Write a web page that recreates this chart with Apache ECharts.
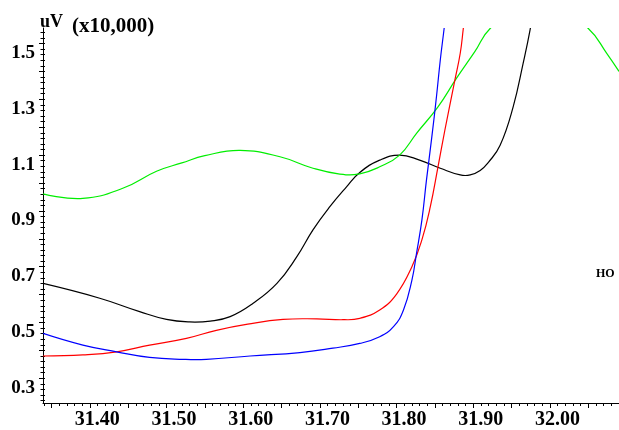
<!DOCTYPE html>
<html>
<head>
<meta charset="utf-8">
<script src="https://cdn.jsdelivr.net/npm/echarts@6/dist/echarts.min.js"></script>
<style>
  html, body { margin: 0; padding: 0; background: #fff; }
  #chart { width: 619px; height: 430px; }
</style>
</head>
<body>
<div id="chart"></div>
<script>
// Retention time (min) / signal (uV x10,000) pairs for each trace
const blueTrace = [
  [31.339, 0.461], [31.391, 0.419], [31.435, 0.395], [31.478, 0.375],
  [31.522, 0.368], [31.552, 0.368], [31.609, 0.380], [31.674, 0.392],
  [31.717, 0.408], [31.752, 0.425], [31.778, 0.449], [31.796, 0.485],
  [31.809, 0.545], [31.820, 0.652], [31.826, 0.748], [31.833, 0.867],
  [31.839, 1.011], [31.846, 1.166], [31.852, 1.309], [31.857, 1.441],
  [31.862, 1.554], [31.866, 1.650]
];
const redTrace = [
  [31.339, 0.380], [31.391, 0.384], [31.435, 0.395], [31.478, 0.419],
  [31.526, 0.443], [31.565, 0.472], [31.606, 0.494], [31.652, 0.511],
  [31.696, 0.513], [31.730, 0.510], [31.752, 0.515], [31.778, 0.545],
  [31.800, 0.602], [31.820, 0.700], [31.833, 0.796], [31.844, 0.915],
  [31.854, 1.058], [31.863, 1.190], [31.876, 1.369], [31.883, 1.465],
  [31.887, 1.554], [31.891, 1.650]
];
const greenTrace = [
  [31.339, 0.961], [31.391, 0.945], [31.443, 0.981], [31.487, 1.042],
  [31.520, 1.072], [31.550, 1.098], [31.596, 1.117], [31.648, 1.094],
  [31.691, 1.053], [31.726, 1.032], [31.752, 1.033], [31.778, 1.058],
  [31.804, 1.100], [31.826, 1.178], [31.854, 1.273], [31.878, 1.375],
  [31.902, 1.471], [31.922, 1.554], [31.984, 1.690], [32.050, 1.554],
  [32.074, 1.465], [32.090, 1.400]
];
const blackTrace = [
  [31.339, 0.640], [31.413, 0.587], [31.465, 0.539], [31.500, 0.511],
  [31.530, 0.502], [31.557, 0.505], [31.583, 0.521], [31.613, 0.569],
  [31.644, 0.640], [31.670, 0.736], [31.691, 0.832], [31.713, 0.915],
  [31.735, 0.987], [31.752, 1.038], [31.778, 1.082], [31.804, 1.100],
  [31.830, 1.082], [31.857, 1.053], [31.883, 1.029], [31.896, 1.029],
  [31.909, 1.045], [31.920, 1.075], [31.935, 1.135], [31.952, 1.273],
  [31.965, 1.429], [31.974, 1.548], [31.980, 1.650]
];

// Axis ranges and tick positions
const xRange = [31.339, 32.090];
const yRange = [0.2115, 1.5556];
const xLabelTicks = [31.40, 31.50, 31.60, 31.70, 31.80, 31.90, 32.00];
const yLabelTicks = [0.3, 0.5, 0.7, 0.9, 1.1, 1.3, 1.5];

function steps(from, to, step) {
  const out = [];
  const n = Math.round((to - from) / step);
  for (let i = 0; i <= n; i++) out.push(+(from + i * step).toFixed(3));
  return out;
}
const xMajorTicks = steps(31.35, 32.05, 0.05);
const xMinorTicks = steps(31.34, 32.09, 0.01);
const yMajorTicks = steps(0.3, 1.5, 0.1);
const yMinorTicks = steps(0.22, 1.54, 0.02);

const serif = '"Liberation Serif", "Times New Roman", serif';

const chart = echarts.init(document.getElementById('chart'), null, { renderer: 'canvas' });

const hiddenAxisBits = {
  axisLine: { show: false },
  axisLabel: { show: false },
  splitLine: { show: false }
};

// Each trace is one smooth polyline, positioned through the cartesian axes
function traceSeries(name, points, color) {
  return {
    type: 'custom',
    name: name,
    coordinateSystem: 'cartesian2d',
    clip: true,
    silent: true,
    data: [points[0]],
    renderItem: function (params, api) {
      return {
        type: 'polyline',
        shape: { points: points.map(p => api.coord(p)), smooth: 0.45 },
        style: { stroke: color, lineWidth: 1.2, fill: null }
      };
    }
  };
}

chart.setOption({
  animation: false,
  backgroundColor: '#ffffff',
  grid: { left: 43, right: 0, top: 28, bottom: 27, containLabel: false },
  xAxis: [
    {
      type: 'value', min: xRange[0], max: xRange[1],
      axisLine: { show: true, onZero: false, lineStyle: { color: '#000', width: 1 } },
      axisTick: { show: true, customValues: xMajorTicks, length: 5, lineStyle: { color: '#000' } },
      axisLabel: {
        show: true, customValues: xLabelTicks, margin: 7,
        fontFamily: serif, fontWeight: 'bold', fontSize: 20, color: '#000',
        padding: [0, 0, 0, 15],
        formatter: v => v.toFixed(2)
      },
      splitLine: { show: false }
    },
    {
      type: 'value', min: xRange[0], max: xRange[1], gridIndex: 0, position: 'bottom',
      axisTick: { show: true, customValues: xMinorTicks, length: 3, lineStyle: { color: '#000' } },
      ...hiddenAxisBits
    }
  ],
  yAxis: [
    {
      type: 'value', min: yRange[0], max: yRange[1],
      axisLine: { show: true, onZero: false, lineStyle: { color: '#000', width: 1 } },
      axisTick: { show: true, customValues: yMajorTicks, length: 4, lineStyle: { color: '#000' } },
      axisLabel: {
        show: true, customValues: yLabelTicks, margin: 8,
        fontFamily: serif, fontWeight: 'bold', fontSize: 19, color: '#000',
        verticalAlign: 'top', lineHeight: 19,
        formatter: v => v.toFixed(1)
      },
      splitLine: { show: false }
    },
    {
      type: 'value', min: yRange[0], max: yRange[1], gridIndex: 0, position: 'left',
      axisTick: { show: true, customValues: yMinorTicks, length: 2.5, lineStyle: { color: '#000' } },
      ...hiddenAxisBits
    },
    {
      type: 'value', min: yRange[0], max: yRange[1], gridIndex: 0, position: 'left',
      axisTick: { show: true, inside: true, customValues: yMinorTicks, length: 2, lineStyle: { color: '#000' } },
      ...hiddenAxisBits
    }
  ],
  graphic: [
    { type: 'text', left: 40, top: 13, style: { text: 'uV', font: 'bold 18px ' + serif, fill: '#000' } },
    { type: 'text', left: 72, top: 16, style: { text: '(x10,000)', font: 'bold 21px ' + serif, fill: '#000' } },
    { type: 'text', left: 596, top: 268, style: { text: 'HO', font: 'bold 12px ' + serif, fill: '#000' } }
  ],
  series: [
    traceSeries('black', blackTrace, '#000000'),
    traceSeries('green', greenTrace, '#00ee00'),
    traceSeries('red', redTrace, '#ff0000'),
    traceSeries('blue', blueTrace, '#0000ff')
  ]
});
</script>
</body>
</html>
